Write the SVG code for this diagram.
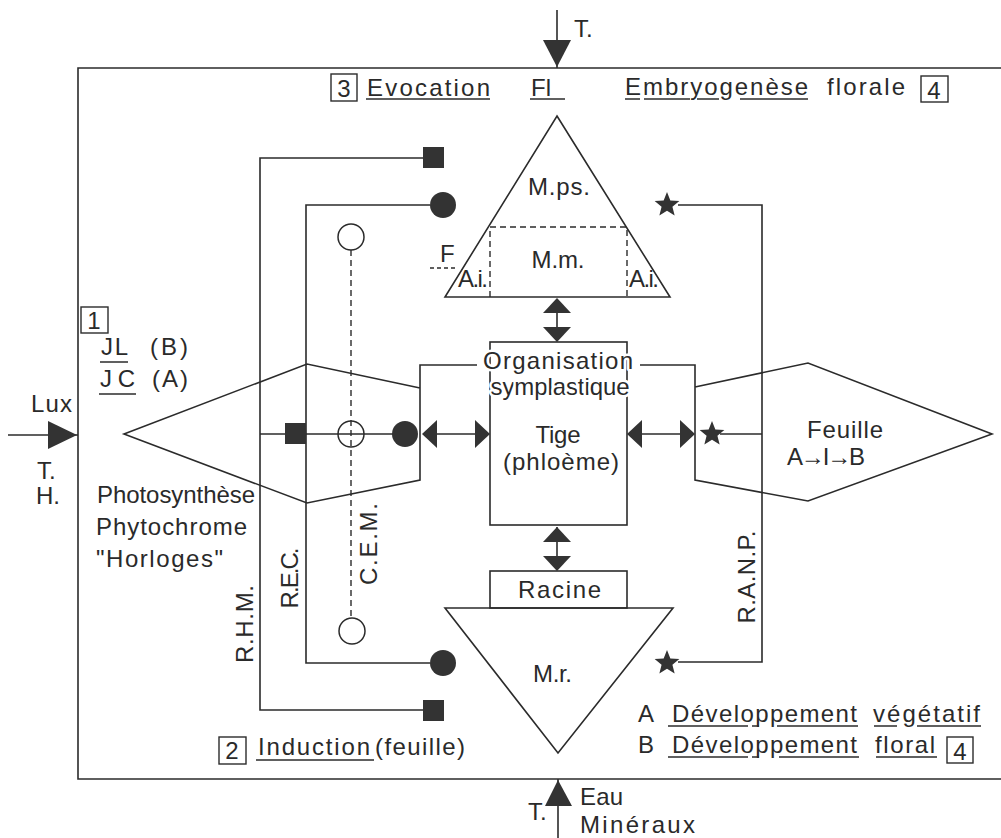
<svg xmlns="http://www.w3.org/2000/svg" xmlns:xlink="http://www.w3.org/1999/xlink" width="1001" height="838" viewBox="0 0 1001 838">
<style>
.ln{fill:none;stroke:#2b2b2b;stroke-width:1.6}
.dash{fill:none;stroke:#2b2b2b;stroke-width:1.4;stroke-dasharray:6 4}
.fill{fill:#333;stroke:none}
.hol{fill:#fff;stroke:#2b2b2b;stroke-width:1.5}
.hol0{fill:none;stroke:#2b2b2b;stroke-width:1.5}
text{font-family:"Liberation Sans",Arial,sans-serif;fill:#2a2a2a;font-size:24px}
.mid{text-anchor:middle}
.ul{stroke:#2b2b2b;stroke-width:1.5}
.bx{fill:none;stroke:#2b2b2b;stroke-width:1.4}
.wb{stroke:#fff;stroke-width:5;paint-order:stroke;stroke-linejoin:round}
</style>
<defs>
<path id="star" d="M0,-13 L3.35,-4.6 L12.36,-4.02 L5.42,1.76 L7.64,10.52 L0,5.7 L-7.64,10.52 L-5.42,1.76 L-12.36,-4.02 L-3.35,-4.6 Z" fill="#333"/>
<path id="triR" d="M0,-14 L15,0 L0,14 Z" fill="#333"/>
<path id="triL" d="M0,-14 L-15,0 L0,14 Z" fill="#333"/>
<path id="triU" d="M-14,0 L0,-15 L14,0 Z" fill="#333"/>
<path id="triD" d="M-14,0 L0,15 L14,0 Z" fill="#333"/>
</defs>

<g id="frame">
<path class="ln" d="M1001 68 H78 V779 H1001"/>
</g>

<g id="connectors">
<line class="ln" x1="557" y1="10" x2="557" y2="68"/>
<path class="fill" d="M543 40 L571 40 L557 67 Z"/>
<line class="ln" x1="558" y1="779" x2="558" y2="838"/>
<path class="fill" d="M545 806 L572 806 L558 780 Z"/>
<line class="ln" x1="8" y1="435" x2="78" y2="435"/>
<path class="fill" d="M48 421 L48 449 L77 435 Z"/>
<path class="ln" d="M423 158 H260 V710 H423"/>
<rect class="fill" x="423" y="147" width="21" height="21"/>
<rect class="fill" x="423" y="700" width="21" height="21"/>
<path class="ln" d="M430 205 H306 V663 H430"/>
<circle class="fill" cx="443" cy="205" r="13"/>
<circle class="fill" cx="443" cy="663" r="13"/>
<line class="dash" x1="351" y1="250" x2="351" y2="618"/>
<circle class="hol" cx="351" cy="237" r="13"/>
<circle class="hol" cx="352" cy="631" r="13"/>
<line class="ln" x1="260" y1="434" x2="393" y2="434"/>
<rect class="fill" x="285" y="423" width="21" height="21"/>
<circle class="hol0" cx="351" cy="434" r="13"/>
<circle class="fill" cx="405" cy="434" r="13"/>
<line class="ln" x1="424" y1="434" x2="488" y2="434"/>
<use xlink:href="#triL" x="437" y="434"/>
<use xlink:href="#triR" x="475" y="434"/>
<line class="ln" x1="629" y1="434" x2="693" y2="434"/>
<use xlink:href="#triL" x="642" y="434"/>
<use xlink:href="#triR" x="680" y="434"/>
<path class="ln" d="M678 205 H762 V662 H678"/>
<line class="ln" x1="720" y1="434" x2="762" y2="434"/>
<use xlink:href="#star" x="667" y="205"/>
<use xlink:href="#star" x="712" y="434"/>
<use xlink:href="#star" x="667" y="663"/>
<line class="ln" x1="557" y1="299" x2="557" y2="341"/>
<use xlink:href="#triU" x="557" y="313"/>
<use xlink:href="#triD" x="557" y="327"/>
<line class="ln" x1="557" y1="527" x2="557" y2="570"/>
<use xlink:href="#triU" x="557" y="542"/>
<use xlink:href="#triD" x="557" y="556"/>
</g>

<g id="apex">
<path class="ln" d="M557 116 L670 297 H445 Z"/>
<path class="dash" d="M490 297 V227 H627 V297"/>
<text class="mid" x="559" y="195" textLength="62">M.ps.</text>
<text class="mid" x="558" y="268" textLength="53">M.m.</text>
<text x="458" y="287" font-size="21" textLength="30">A.i.</text>
<text x="629" y="287" font-size="21" textLength="30">A.i.</text>
<text x="440" y="262" font-size="21">F</text>
<line class="dash" x1="430" y1="268" x2="458" y2="268" style="stroke-dasharray:4 3"/>
</g>

<g id="tige">
<rect class="ln" x="490" y="342" width="137" height="183"/>
<text class="mid wb" x="558" y="369" font-size="23" textLength="150">Organisation</text>
<text class="mid wb" x="560" y="395" font-size="21" textLength="139">symplastique</text>
<text class="mid" x="558" y="443" font-size="25" textLength="45">Tige</text>
<text class="mid" x="561" y="470" font-size="25" textLength="116">(phloème)</text>
</g>

<g id="leaf-left">
<path class="ln" d="M477 365 H420 V480 L307 503 L124 434 L307 364 L420 388"/>
</g>

<g id="leaf-right">
<path class="ln" d="M640 365 H695 V480 L808 501 L992 434 L808 363 L695 387"/>
<text x="807" y="438" font-size="24" textLength="76">Feuille</text>
<text x="787" y="465" font-size="20" textLength="78">A→I→B</text>
</g>

<g id="racine">
<rect class="ln" x="490" y="571" width="137" height="37"/>
<text x="518" y="598" font-size="25" textLength="83">Racine</text>
<path class="ln" d="M445 608 H673 L558 753 Z"/>
<text x="533" y="682" font-size="23" textLength="39">M.r.</text>
</g>

<g id="labels-rot">
<text class="mid" transform="translate(253,624) rotate(-90)" textLength="78">R.H.M.</text>
<text class="mid" transform="translate(298,578) rotate(-90)" textLength="61">R.E.C.</text>
<text class="mid" transform="translate(377,544) rotate(-90)" textLength="82">C.E.M.</text>
<text class="mid" transform="translate(755,577) rotate(-90)" textLength="93">R.A.N.P.</text>
</g>

<g id="top-labels">
<text x="574" y="37" font-size="22">T.</text>
<rect class="bx" x="331" y="74" width="26" height="27"/>
<text class="mid" x="344" y="97">3</text>
<text x="367" y="96" font-size="26" textLength="123">Evocation</text>
<line class="ul" x1="366" y1="99" x2="490" y2="99"/>
<text x="531" y="96" font-size="26">Fl</text>
<line class="ul" x1="530" y1="99" x2="565" y2="99"/>
<text x="625" y="95" font-size="26" textLength="183">Embryogenèse</text>
<line class="ul" x1="625" y1="99" x2="640" y2="99"/>
<line class="ul" x1="644" y1="99" x2="690" y2="99"/>
<line class="ul" x1="697" y1="99" x2="719" y2="99"/>
<line class="ul" x1="740" y1="99" x2="808" y2="99"/>
<text x="827" y="95" font-size="26" textLength="78">florale</text>
<rect class="bx" x="921" y="76" width="27" height="26"/>
<text class="mid" x="934" y="99">4</text>
</g>

<g id="left-labels">
<rect class="bx" x="81" y="307" width="27" height="26"/>
<text class="mid" x="94" y="329">1</text>
<text x="101" y="355" font-size="25" textLength="27">JL</text>
<line class="ul" x1="100" y1="362" x2="128" y2="362"/>
<text x="150" y="355" font-size="25" textLength="38">(B)</text>
<text x="100" y="387" font-size="25" textLength="35">JC</text>
<line class="ul" x1="99" y1="394" x2="136" y2="394"/>
<text x="152" y="387" font-size="25" textLength="36">(A)</text>
<text x="31" y="412" font-size="25" textLength="41">Lux</text>
<text x="37" y="479" font-size="21">T.</text>
<text x="36" y="504" font-size="21">H.</text>
<text x="97" y="503" textLength="158">Photosynthèse</text>
<text x="96" y="535" textLength="151">Phytochrome</text>
<text x="96" y="567" textLength="127">"Horloges"</text>
</g>

<g id="bottom-labels">
<rect class="bx" x="219" y="737" width="27" height="27"/>
<text class="mid" x="232" y="759">2</text>
<text x="258" y="755" font-size="26" textLength="112">Induction</text>
<line class="ul" x1="256" y1="760" x2="374" y2="760"/>
<text x="375" y="755" font-size="26" textLength="90">(feuille)</text>
<text x="638" y="722" font-size="25">A</text>
<text x="672" y="722" font-size="26" textLength="185">Développement</text>
<line class="ul" x1="668" y1="726" x2="748" y2="726"/>
<line class="ul" x1="752" y1="726" x2="759" y2="726"/>
<line class="ul" x1="777" y1="726" x2="858" y2="726"/>
<text x="873" y="722" font-size="26" textLength="107">végétatif</text>
<line class="ul" x1="874" y1="726" x2="897" y2="726"/>
<line class="ul" x1="917" y1="726" x2="981" y2="726"/>
<text x="638" y="753" font-size="25">B</text>
<text x="672" y="753" font-size="26" textLength="185">Développement</text>
<line class="ul" x1="668" y1="757" x2="748" y2="757"/>
<line class="ul" x1="752" y1="757" x2="759" y2="757"/>
<line class="ul" x1="779" y1="757" x2="859" y2="757"/>
<text x="875" y="753" font-size="26" textLength="60">floral</text>
<line class="ul" x1="876" y1="757" x2="937" y2="757"/>
<rect class="bx" x="947" y="737" width="26" height="26"/>
<text class="mid" x="960" y="760">4</text>
<text x="528" y="820">T.</text>
<text x="580" y="805" textLength="43">Eau</text>
<text x="580" y="833" font-size="25" textLength="115">Minéraux</text>
</g>
</svg>
